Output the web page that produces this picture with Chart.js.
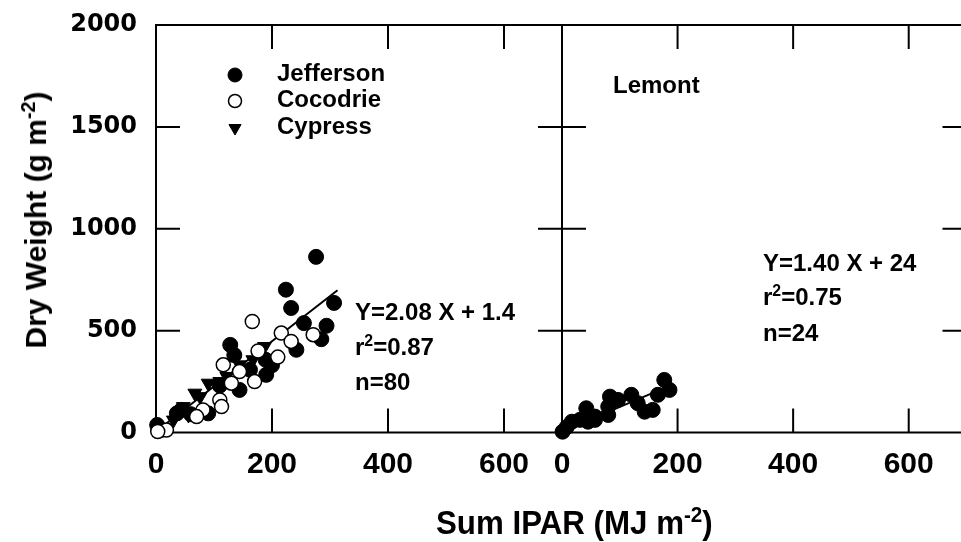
<!DOCTYPE html>
<html>
<head>
<meta charset="utf-8">
<script src="https://cdn.jsdelivr.net/npm/chart.js@4.4.0/dist/chart.umd.min.js"></script>
<style>
html, body { margin: 0; padding: 0; background: #fff; overflow: hidden; width: 961px; height: 542px; }
#wrap { position: relative; width: 961px; height: 542px; overflow: hidden; }
canvas { position: absolute; left: 0; top: 0; }
.t { position: absolute; font-family: "Liberation Sans", Arial, sans-serif; font-weight: bold; color: #000;
     line-height: 1; white-space: nowrap; transform: translateY(-50%); }
.t sup { font-size: 0.66em; vertical-align: 0.55em; line-height: 0; }
</style>
</head>
<body>
<div id="wrap">
  <canvas id="leftChart" width="975" height="542"></canvas>
  <canvas id="rightChart" width="975" height="542"></canvas>

  <div class="t" style="left:355px;top:312px;font-size:24px">Y=2.08 X + 1.4</div>
  <div class="t" style="left:355px;top:347px;font-size:24px">r<sup>2</sup>=0.87</div>
  <div class="t" style="left:355px;top:382px;font-size:24px">n=80</div>

  <div class="t" style="left:613px;top:85px;font-size:24px">Lemont</div>
  <div class="t" style="left:763px;top:263px;font-size:24px">Y=1.40 X + 24</div>
  <div class="t" style="left:763px;top:297px;font-size:24px">r<sup>2</sup>=0.75</div>
  <div class="t" style="left:763px;top:333px;font-size:24px">n=24</div>

  <div class="t" style="left:36px;top:220px;font-size:30px;transform:translate(-50%,-50%) rotate(-90deg)">Dry Weight (g m<sup>-2</sup>)</div>
  <div class="t" style="left:436px;top:522px;font-size:34px;transform-origin:left center;transform:translateY(-50%) scaleX(0.92)">Sum IPAR (MJ m<sup>-2</sup>)</div>
</div>

<script>
// axis ticks
const xTicks = [0, 200, 400, 600];
const yTicks = [0, 500, 1000, 1500, 2000];

// left panel: Jefferson, Cocodrie, Cypress
const jeffersonX = [276, 224, 233, 307, 255, 294, 285, 242, 128, 189, 190, 144, 162, 90, 36, 2, 8, 44, 135, 110, 200, 60];
const jeffersonY = [862, 701, 611, 636, 537, 524, 458, 406, 430, 357, 283, 209, 308, 94, 94, 37, 12, 111, 380, 230, 330, 90];
const cocodrieX = [166, 216, 271, 233, 210, 116, 170, 110, 113, 81, 70, 176, 130, 144, 18, 3];
const cocodrieY = [545, 488, 480, 447, 370, 332, 250, 160, 127, 111, 78, 400, 242, 299, 12, 5];
const cypressX = [187, 144, 167, 110, 90, 67, 76, 47, 56, 30, 13, 122];
const cypressY = [422, 332, 357, 250, 242, 193, 176, 127, 86, 61, 21, 275];
const leftFitX = [0, 313];
const leftFitY = [5, 698];

// right panel: Lemont
const lemontX = [1, 8, 17, 42, 45, 57, 80, 80, 83, 97, 120, 131, 143, 157, 166, 177, 186, 31, 57];
const lemontY = [4, 26, 53, 119, 53, 62, 86, 127, 176, 160, 185, 144, 102, 111, 185, 258, 209, 62, 78];
const rightFitX = [5, 183];
const rightFitY = [12, 225];

const legendNames = ["Jefferson", "Cocodrie", "Cypress"];

const TL = 24; // inward tick length
const AXIS_BOTTOM = 432.5;
const TOP = 25;

function pts(xs, ys) {
  return xs.map((x, i) => ({ x: x, y: ys[i] }));
}

const jeffStyle = { pointStyle: 'circle', pointRadius: 7.5, pointBackgroundColor: '#000', pointBorderColor: '#000', pointBorderWidth: 1 };
const cocoStyle = { pointStyle: 'circle', pointRadius: 7, pointBackgroundColor: '#fff', pointBorderColor: '#000', pointBorderWidth: 1.5 };
const cypStyle = { pointStyle: 'triangle', pointRadius: 8, pointRotation: 180, pointBackgroundColor: '#000', pointBorderColor: '#000', pointBorderWidth: 1 };

const framePlugin = {
  id: 'frame',
  beforeDatasetsDraw(chart) {
    const ctx = chart.ctx, a = chart.chartArea;
    const xs = chart.scales.x, ys = chart.scales.y;
    ctx.save();
    ctx.strokeStyle = '#000';
    ctx.lineWidth = 2;
    ctx.beginPath();
    ctx.moveTo(a.left, a.bottom); ctx.lineTo(a.left, a.top); ctx.lineTo(a.right, a.top); ctx.lineTo(a.right, a.bottom);
    ctx.moveTo(a.left - 1, a.bottom); ctx.lineTo(a.right, a.bottom);
    xTicks.slice(1).forEach(v => {
      const p = xs.getPixelForValue(v);
      ctx.moveTo(p, a.bottom); ctx.lineTo(p, a.bottom - TL);
      ctx.moveTo(p, a.top); ctx.lineTo(p, a.top + TL);
    });
    yTicks.slice(1, -1).forEach(v => {
      const p = ys.getPixelForValue(v);
      ctx.moveTo(a.left, p); ctx.lineTo(a.left + TL, p);
      ctx.moveTo(a.right, p); ctx.lineTo(a.right - TL, p);
    });
    ctx.stroke();
    ctx.restore();
  }
};

const legendPlugin = {
  id: 'innerLegend',
  afterDatasetsDraw(chart) {
    const ctx = chart.ctx;
    const styles = [jeffStyle, cocoStyle, cypStyle];
    const rows = [75, 101, 128];
    ctx.save();
    styles.forEach((s, i) => {
      ctx.fillStyle = s.pointBackgroundColor;
      ctx.strokeStyle = s.pointBorderColor;
      ctx.lineWidth = s.pointBorderWidth;
      Chart.helpers.drawPoint(ctx, {
        pointStyle: s.pointStyle,
        radius: i === 1 ? 6.5 : 7,
        rotation: s.pointRotation || 0,
        borderWidth: s.pointBorderWidth
      }, 235, rows[i]);
      ctx.fillStyle = '#000';
      ctx.font = 'bold 24px "Liberation Sans", Arial, sans-serif';
      ctx.textBaseline = 'middle';
      ctx.textAlign = 'left';
      ctx.fillText(legendNames[i], 277, rows[i] - 1);
    });
    ctx.restore();
  }
};

function xScale() {
  return {
    type: 'linear',
    min: 0,
    max: 700,
    afterBuildTicks: s => { s.ticks = xTicks.map(v => ({ value: v })); },
    afterFit: s => { s.height = 542 - AXIS_BOTTOM; s.paddingLeft = 0; s.paddingRight = 0; },
    grid: { display: false, drawTicks: false },
    border: { display: false },
    ticks: {
      autoSkip: false,
      maxRotation: 0,
      padding: 14,
      color: '#000',
      callback: v => String(v),
      font: { family: "'Liberation Sans', Arial, sans-serif", size: 30, weight: 'bold' }
    }
  };
}

function yScale(show) {
  const s = {
    type: 'linear',
    display: show,
    min: 0,
    max: 2000,
    afterBuildTicks: sc => { sc.ticks = yTicks.map(v => ({ value: v })); },
    grid: { display: false, drawTicks: false },
    border: { display: false },
    ticks: {
      autoSkip: false,
      padding: 19,
      color: '#000',
      callback: v => String(v),
      font: { family: "'DejaVu Sans', sans-serif", size: 24, weight: 'bold' }
    }
  };
  if (show) {
    s.afterFit = sc => { sc.width = 156; sc.paddingTop = 0; sc.paddingBottom = 0; };
  }
  return s;
}

const common = {
  responsive: false,
  animation: false,
  events: [],
  plugins: { legend: { display: false }, tooltip: { enabled: false } }
};

new Chart(document.getElementById('leftChart'), {
  type: 'scatter',
  data: {
    datasets: [
      Object.assign({ label: 'Cocodrie', data: pts(cocodrieX, cocodrieY), clip: false }, cocoStyle),
      Object.assign({ label: 'Jefferson', data: pts(jeffersonX, jeffersonY), clip: false }, jeffStyle),
      Object.assign({ label: 'Cypress', data: pts(cypressX, cypressY), clip: false }, cypStyle),
      { label: 'fit', data: pts(leftFitX, leftFitY), showLine: true, pointRadius: 0, borderColor: '#000', borderWidth: 2, clip: false }
    ]
  },
  options: Object.assign({}, common, {
    layout: { padding: { left: 0, top: TOP, right: 975 - 562, bottom: 0 } },
    scales: { x: xScale(), y: yScale(true) }
  }),
  plugins: [framePlugin, legendPlugin]
});

new Chart(document.getElementById('rightChart'), {
  type: 'scatter',
  data: {
    datasets: [
      Object.assign({ label: 'Lemont', data: pts(lemontX, lemontY), clip: false }, jeffStyle),
      { label: 'fit', data: pts(rightFitX, rightFitY), showLine: true, pointRadius: 0, borderColor: '#000', borderWidth: 2, clip: false }
    ]
  },
  options: Object.assign({}, common, {
    layout: { padding: { left: 562, top: TOP, right: 975 - 969, bottom: 0 } },
    scales: { x: xScale(), y: yScale(false) }
  }),
  plugins: [framePlugin]
});
</script>
</body>
</html>
